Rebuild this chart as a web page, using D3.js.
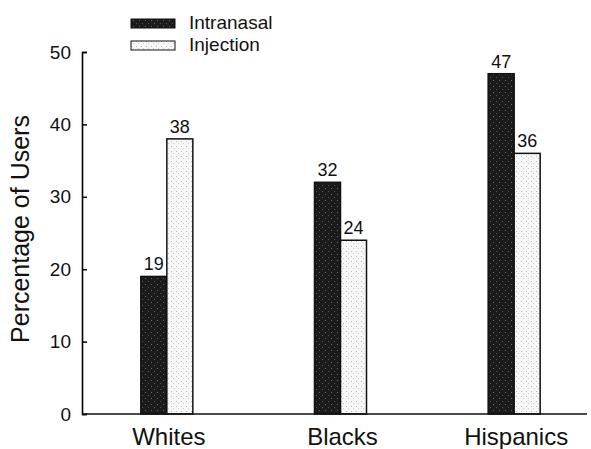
<!DOCTYPE html>
<html>
<head>
<meta charset="utf-8">
<script src="https://cdn.jsdelivr.net/npm/d3@7"></script>
<style>
  body { margin: 0; background: #fff; }
  svg { font-family: "Liberation Sans", Arial, sans-serif; }
</style>
</head>
<body>
<svg id="chart" width="591" height="449"></svg>
<script>
const groups = ["Whites", "Blacks", "Hispanics"]
const seriesNames = ["Intranasal", "Injection"]
const intranasal = [19, 32, 47]
const injection = [38, 24, 36]
const yTicks = [0, 10, 20, 30, 40, 50]

const margins = { top: 52, bottom: 35, left: 82, right: 0 }

const svg = d3.select("#chart")
const width = 591, height = 449

// stipple-like fills
const defs = svg.append("defs")
const dark = defs.append("pattern")
    .attr("id", "darkFill").attr("patternUnits", "userSpaceOnUse")
    .attr("width", 6).attr("height", 6)
dark.append("rect").attr("width", 6).attr("height", 6).attr("fill", "#1b1b1b")
dark.append("rect").attr("x", 1).attr("y", 2).attr("width", 1).attr("height", 1).attr("fill", "#666")
dark.append("rect").attr("x", 4).attr("y", 5).attr("width", 1).attr("height", 1).attr("fill", "#555")

const light = defs.append("pattern")
    .attr("id", "lightFill").attr("patternUnits", "userSpaceOnUse")
    .attr("width", 5).attr("height", 5)
light.append("rect").attr("width", 5).attr("height", 5).attr("fill", "#f7f7f7")
light.append("rect").attr("x", 1).attr("y", 1).attr("width", 1).attr("height", 1).attr("fill", "#bbb")
light.append("rect").attr("x", 3).attr("y", 3).attr("width", 1).attr("height", 1).attr("fill", "#ccc")

const fills = ["url(#darkFill)", "url(#lightFill)"]

let x = d3.scaleBand()
    .domain(groups)
    .range([80, 601])
let y = d3.scaleLinear()
    .domain([0, 50])
    .range([414, 52])

const BAR_W = 26

// y axis
const yAxis = d3.axisLeft(y)
    .tickValues(yTicks)
    .tickSize(-5)
    .tickPadding(11)
svg.append("g")
    .attr("class", "y_axis")
    .attr("transform", "translate(" + margins.left + ",0)")
    .call(yAxis)
    .call(g => g.select(".domain").attr("stroke-width", 1.6))
    .call(g => g.selectAll(".tick line").attr("stroke-width", 1.5))
    .selectAll("text")
    .attr("font-size", "19px")
    .attr("font-family", "Liberation Sans, Arial, sans-serif")
    .attr("fill", "#111")

// bars
const rows = groups.map((g, i) => ({ group: g, values: [intranasal[i], injection[i]] }))
rows.forEach(r => {
    r.values.forEach((v, j) => {
        const bx = x(r.group) + x.bandwidth() / 2 - BAR_W + j * BAR_W
        svg.append("rect")
            .attr("x", bx)
            .attr("y", y(v))
            .attr("width", BAR_W)
            .attr("height", y(0) - y(v))
            .attr("fill", fills[j])
            .attr("stroke", "#111")
            .attr("stroke-width", 1.5)
        svg.append("text")
            .attr("x", bx + BAR_W / 2)
            .attr("y", y(v) - 6)
            .attr("text-anchor", "middle")
            .attr("font-size", "18px")
            .attr("fill", "#111")
            .text(v)
    })
})

// x axis line
svg.append("line")
    .attr("x1", margins.left).attr("x2", 587)
    .attr("y1", y(0)).attr("y2", y(0))
    .attr("stroke", "#111").attr("stroke-width", 1.6)

// group labels
svg.selectAll(".group_label")
    .data(groups)
    .enter().append("text")
    .attr("class", "group_label")
    .attr("x", d => x(d) + x.bandwidth() / 2 + 2)
    .attr("y", 445)
    .attr("text-anchor", "middle")
    .attr("font-size", "24px")
    .attr("fill", "#111")
    .text(d => d)

// y label
svg.append("text")
    .attr("transform", "translate(29,229) rotate(-90)")
    .attr("text-anchor", "middle")
    .attr("font-size", "25px")
    .attr("fill", "#111")
    .text("Percentage of Users")

// legend
seriesNames.forEach((name, j) => {
    svg.append("rect")
        .attr("x", 131).attr("y", 19 + j * 22)
        .attr("width", 44).attr("height", 9)
        .attr("fill", fills[j])
        .attr("stroke", "#111")
        .attr("stroke-width", 1)
    svg.append("text")
        .attr("x", 189).attr("y", 29 + j * 22)
        .attr("font-size", "19px")
        .attr("fill", "#111")
        .text(name)
})
</script>
</body>
</html>
